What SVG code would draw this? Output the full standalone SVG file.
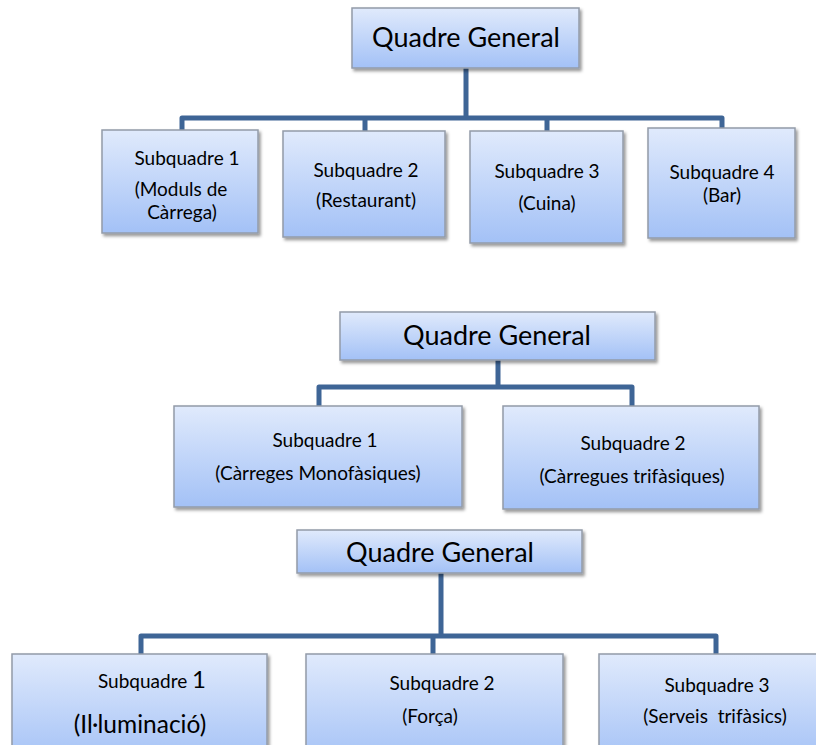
<svg xmlns="http://www.w3.org/2000/svg" width="816" height="745" viewBox="0 0 816 745">
<defs>
<linearGradient id="g" x1="0" y1="0" x2="0" y2="1">
<stop offset="0" stop-color="#e0eafc"/>
<stop offset="1" stop-color="#a3c1f6"/>
</linearGradient>
<filter id="sh" x="-10%" y="-10%" width="125%" height="130%">
<feDropShadow dx="2" dy="2.5" stdDeviation="1.5" flood-color="#000" flood-opacity="0.4"/>
</filter>
<style>
.box{fill:url(#g);stroke:#939ba8;stroke-width:1.5;filter:url(#sh)}
.con{fill:none;stroke:#3e6596;stroke-width:5;stroke-linejoin:round;stroke-linecap:butt}
text{font-family:Lato,"Open Sans","Liberation Sans",sans-serif;fill:#000;text-anchor:middle}
.big{font-size:27px}
.sm{font-size:19px}
</style>
</defs>
<rect width="816" height="745" fill="#fff"/>
<g id="connectors">
<path class="con" d="M466,68 V118 M182,131 V118 H722 V129 M365,118 V131 M547,118 V131"/>
<path class="con" d="M498,360 V387 M319,406 V387 H632 V406"/>
<path class="con" d="M441,573 V636 M141,654 V636 H716 V654 M433,636 V654"/>
</g>
<g id="qg1"><rect class="box" x="352" y="8" width="227" height="60"/><text class="big" x="466" y="47">Quadre General</text></g>
<g id="d1s1"><rect class="box" x="102" y="130" width="156" height="103"/><text class="sm" x="187" y="165">Subquadre 1</text><text class="sm" x="181" y="196">(Moduls de</text><text class="sm" x="182" y="219">Càrrega)</text></g>
<g id="d1s2"><rect class="box" x="283" y="131" width="162" height="106"/><text class="sm" x="366" y="177">Subquadre 2</text><text class="sm" x="366" y="207">(Restaurant)</text></g>
<g id="d1s3"><rect class="box" x="470" y="131" width="153" height="112"/><text class="sm" x="547" y="178">Subquadre 3</text><text class="sm" x="547" y="210">(Cuina)</text></g>
<g id="d1s4"><rect class="box" x="648" y="128" width="147" height="110"/><text class="sm" x="722" y="179">Subquadre 4</text><text class="sm" x="722" y="202">(Bar)</text></g>
<g id="qg2"><rect class="box" x="340" y="312" width="315" height="48"/><text class="big" x="497" y="345">Quadre General</text></g>
<g id="d2s1"><rect class="box" x="174" y="406" width="288" height="101"/><text class="sm" x="325" y="447">Subquadre 1</text><text class="sm" x="318" y="480">(Càrreges Monofàsiques)</text></g>
<g id="d2s2"><rect class="box" x="503" y="406" width="256" height="103"/><text class="sm" x="633" y="450">Subquadre 2</text><text class="sm" x="632" y="483">(Càrregues trifàsiques)</text></g>
<g id="qg3"><rect class="box" x="297" y="530" width="285" height="43"/><text class="big" x="440" y="562">Quadre General</text></g>
<g id="d3s1"><rect class="box" x="12" y="654" width="255" height="110"/><text class="sm" x="152" y="688">Subquadre <tspan font-size="24">1</tspan></text><text x="140" y="733" font-size="24.5">(Il·luminació)</text></g>
<g id="d3s2"><rect class="box" x="306" y="654" width="257" height="110"/><text class="sm" x="442" y="690">Subquadre 2</text><text class="sm" x="430" y="723">(Força)</text></g>
<g id="d3s3"><rect class="box" x="599" y="654" width="230" height="110"/><text class="sm" x="717" y="692">Subquadre 3</text><text class="sm" x="715" y="723" xml:space="preserve">(Serveis  trifàsics)</text></g>
</svg>
